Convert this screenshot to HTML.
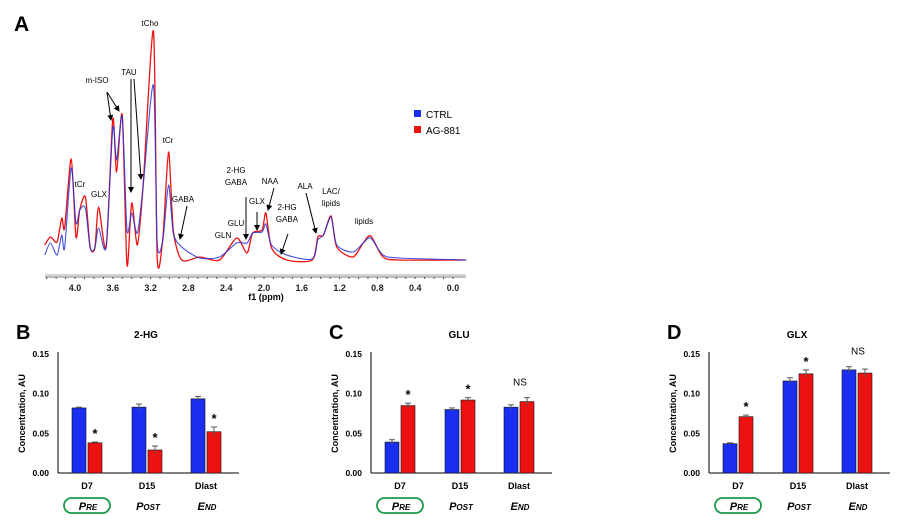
<!DOCTYPE html>
<html><head><meta charset="utf-8">
<style>
body{margin:0;background:#fff;width:898px;height:523px;overflow:hidden;font-family:"Liberation Sans",Arial,sans-serif}
svg{position:absolute;left:0;top:0}
text{font-family:"Liberation Sans",Arial,sans-serif}
.sc{font-style:italic;font-weight:bold;font-variant:small-caps}
</style></head>
<body>
<svg id="chart" width="898" height="523" viewBox="0 0 898 523">
<defs><marker id="ah" markerWidth="6" markerHeight="6" refX="5" refY="3" orient="auto"><path d="M0,0 L6,3 L0,6 z" fill="#000"/></marker></defs>
<text x="14" y="31" font-size="21" font-weight="bold">A</text>
<g id="spec"></g>
<g id="ann" font-size="8" fill="#000">
<text x="150" y="26" text-anchor="middle">tCho</text>
<text x="129" y="75" text-anchor="middle">TAU</text>
<text x="97" y="83" text-anchor="middle">m-ISO</text>
<text x="80" y="187" text-anchor="middle">tCr</text>
<text x="99" y="197" text-anchor="middle">GLX</text>
<text x="168" y="143" text-anchor="middle">tCr</text>
<text x="183" y="202" text-anchor="middle">GABA</text>
<text x="236" y="173" text-anchor="middle">2-HG</text>
<text x="236" y="185" text-anchor="middle">GABA</text>
<text x="270" y="184" text-anchor="middle">NAA</text>
<text x="257" y="204" text-anchor="middle">GLX</text>
<text x="236" y="226" text-anchor="middle">GLU</text>
<text x="223" y="238" text-anchor="middle">GLN</text>
<text x="287" y="210" text-anchor="middle">2-HG</text>
<text x="287" y="222" text-anchor="middle">GABA</text>
<text x="305" y="189" text-anchor="middle">ALA</text>
<text x="331" y="194" text-anchor="middle">LAC/</text>
<text x="331" y="206" text-anchor="middle">lipids</text>
<text x="364" y="224" text-anchor="middle">lipids</text>
<g stroke="#000" stroke-width="1" marker-end="url(#ah)" fill="none">
<line x1="107" y1="92" x2="111" y2="120"/><line x1="107" y1="92" x2="119" y2="111"/>
<line x1="131" y1="79" x2="131" y2="192"/><line x1="134" y1="79" x2="141" y2="179"/>
<line x1="187" y1="206" x2="180" y2="239"/><line x1="246" y1="197" x2="246" y2="239"/>
<line x1="257" y1="212" x2="257" y2="230"/><line x1="274" y1="188" x2="268" y2="210"/>
<line x1="288" y1="234" x2="281" y2="254"/><line x1="306" y1="193" x2="316" y2="233"/>
</g></g>
<rect x="414" y="110" width="7" height="7" fill="#1a2ef0"/>
<text x="426" y="118" font-size="10">CTRL</text>
<rect x="414" y="126" width="7" height="7" fill="#ee1111"/>
<text x="426" y="134" font-size="10">AG-881</text>
<g id="bars"></g>
</svg>
<script>
// spectrum data
const ppm=[4.32,4.26,4.19,4.14,4.11,4.04,3.99,3.95,3.89,3.84,3.79,3.75,3.67,3.60,3.56,3.50,3.45,3.40,3.34,3.28,3.17,3.13,3.07,3.01,2.96,2.87,2.68,2.47,2.29,2.18,2.12,2.02,1.98,1.92,1.76,1.49,1.43,1.37,1.29,1.23,1.06,0.95,0.87,0.74,0.56,-0.14];
const ctrl=[7,19,7,27,14,94,39,52,54,14,14,34,15,134,102,145,32,49,29,75,177,19,22,77,29,15,4,5,19,19,29,30,38,17,7,3,22,27,45,17,10,19,24,7,4,2];
const ag881=[17,25,20,44,34,103,25,52,65,15,14,55,15,143,90,147,-3,59,17,75,231,4,24,110,32,2,5,2,24,9,29,32,49,14,2,2,25,27,46,15,5,19,26,5,2,2];
const ppmTicks=[4.0,3.6,3.2,2.8,2.4,2.0,1.6,1.2,0.8,0.4,0.0];
const NS='http://www.w3.org/2000/svg';
function mk(t,a,p){const e=document.createElementNS(NS,t);for(const k in a)e.setAttribute(k,a[k]);p.appendChild(e);return e;}
const sx=p=>453-p*94.5, sy=v=>262-v;
const spec=document.getElementById('spec');
function pathFor(vals){
  const pts=ppm.map((p,i)=>[sx(p),sy(vals[i])]);
  let d='M'+pts[0][0]+','+pts[0][1];
  for(let i=0;i<pts.length-1;i++){
    const p0=pts[Math.max(0,i-1)],p1=pts[i],p2=pts[i+1],p3=pts[Math.min(pts.length-1,i+2)];
    const t=0.13;
    d+=' C'+(p1[0]+(p2[0]-p0[0])*t)+','+(p1[1]+(p2[1]-p0[1])*t)+' '+(p2[0]-(p3[0]-p1[0])*t)+','+(p2[1]-(p3[1]-p1[1])*t)+' '+p2[0]+','+p2[1];
  }
  return d;
}
let el;
el=mk('path',{d:pathFor(ag881),fill:'none',stroke:'#ee1111','stroke-width':1.3},spec);


el=mk('path',{d:pathFor(ctrl),fill:'none',stroke:'#2233dd','stroke-width':1.1,'stroke-opacity':0.85},spec);


el=mk('line',{x1:45,x2:466,y1:275,y2:275,stroke:'#aaa','stroke-width':1},spec);


mk('line',{x1:45,x2:466,y1:277,y2:277,stroke:'#777','stroke-width':1},spec);
for(let p=4.3;p>=-0.1;p-=0.1){mk('line',{x1:sx(p),x2:sx(p),y1:277,y2:279,stroke:'#555'},spec);}
ppmTicks.forEach(p=>{
  el=mk('text',{x:sx(p),y:291,'font-size':9,'font-weight':'bold','text-anchor':'middle',fill:'#222'},spec);
  el.textContent=p.toFixed(1);
  
  
});
el=mk('text',{x:266,y:300,'font-size':9,'font-weight':'bold','text-anchor':'middle'},spec);
el.textContent='f1 (ppm)';



// bar chart data
const categories=['D7','D15','Dlast'];
const phases=['Pre','Post','End'];
const yTicks=[0.00,0.05,0.10,0.15];
const hgCtrl=[0.082,0.083,0.0935], hgAg=[0.038,0.029,0.052], hgCtrlErr=[0.001,0.004,0.003], hgAgErr=[0.001,0.005,0.006], hgMarks=['*','*','*'];
const gluCtrl=[0.039,0.080,0.083], gluAg=[0.085,0.092,0.090], gluCtrlErr=[0.003,0.002,0.003], gluAgErr=[0.003,0.003,0.005], gluMarks=['*','*','NS'];
const glxCtrl=[0.037,0.116,0.130], glxAg=[0.071,0.125,0.126], glxCtrlErr=[0.001,0.004,0.004], glxAgErr=[0.002,0.005,0.005], glxMarks=['*','*','NS'];
const bars=document.getElementById('bars');
function barChart(ax,letter,title,c,a,ce,ae,marks,id){
  const g=mk('g',{},bars);
  
  
  const y0=473,y1=354, ys=v=>y0-(v/0.15)*(y0-y1);
  el=mk('text',{x:ax-42,y:339,'font-size':20,'font-weight':'bold'},g);el.textContent=letter;
  
  
  el=mk('text',{x:ax+88,y:338,'font-size':10,'font-weight':'bold','text-anchor':'middle'},g);el.textContent=title;
  
  
  mk('line',{x1:ax,x2:ax,y1:y1-2,y2:y0,stroke:'#000'},g);
  el=mk('line',{x1:ax,x2:ax+181,y1:y0,y2:y0,stroke:'#000'},g);
  
  
  yTicks.forEach(t=>{
    el=mk('text',{x:ax-9,y:ys(t)+3,'font-size':8.5,'font-weight':'bold','text-anchor':'end'},g);el.textContent=t.toFixed(2);
    
    
  });
  el=mk('text',{transform:`translate(${ax-33},${(y0+y1)/2}) rotate(-90)`,'font-size':9,'font-weight':'bold','text-anchor':'middle'},g);el.textContent='Concentration, AU';
  
  
  const centers=[29,89,148];
  categories.forEach((cat,i)=>{
    const cx=ax+centers[i];
    el=mk('rect',{x:cx-15,y:ys(c[i]),width:14,height:y0-ys(c[i]),fill:'#1a2ef0',stroke:'#111','stroke-width':0.6},g);
    
    
    el=mk('rect',{x:cx+1,y:ys(a[i]),width:14,height:y0-ys(a[i]),fill:'#ee1111',stroke:'#111','stroke-width':0.6},g);
    
    
    [[cx-8,c[i],ce[i]],[cx+8,a[i],ae[i]]].forEach(([x,v,e])=>{
      mk('line',{x1:x,x2:x,y1:ys(v+e),y2:ys(v-e),stroke:'#555'},g);
      mk('line',{x1:x-3,x2:x+3,y1:ys(v+e),y2:ys(v+e),stroke:'#555'},g);
    });
    const top=Math.max(c[i]+ce[i],a[i]+ae[i]);
    if(marks[i]==='*'){el=mk('text',{x:cx+8,y:ys(a[i]+ae[i])-4,'font-size':13,'font-weight':'bold','text-anchor':'middle'},g);}
    else{el=mk('text',{x:cx+1,y:ys(top)-12,'font-size':10,'text-anchor':'middle'},g);}
    el.textContent=marks[i];
    
    
    el=mk('text',{x:cx,y:489,'font-size':9,'font-weight':'bold','text-anchor':'middle'},g);el.textContent=cat;
    
    
    if(i===0){
      el=mk('rect',{x:cx-23,y:498,width:46,height:15,rx:7.5,fill:'none',stroke:'#1a9a4a','stroke-width':1.8},g);
      
      
    }
    el=mk('text',{x:cx+1,y:510,'font-size':11,'text-anchor':'middle','class':'sc'},g);el.textContent=phases[i];
    
    
  });
}
barChart(58,'B','2-HG',hgCtrl,hgAg,hgCtrlErr,hgAgErr,hgMarks,'hg');
barChart(371,'C','GLU',gluCtrl,gluAg,gluCtrlErr,gluAgErr,gluMarks,'glu');
barChart(709,'D','GLX',glxCtrl,glxAg,glxCtrlErr,glxAgErr,glxMarks,'glx');
</script>
</body></html>
